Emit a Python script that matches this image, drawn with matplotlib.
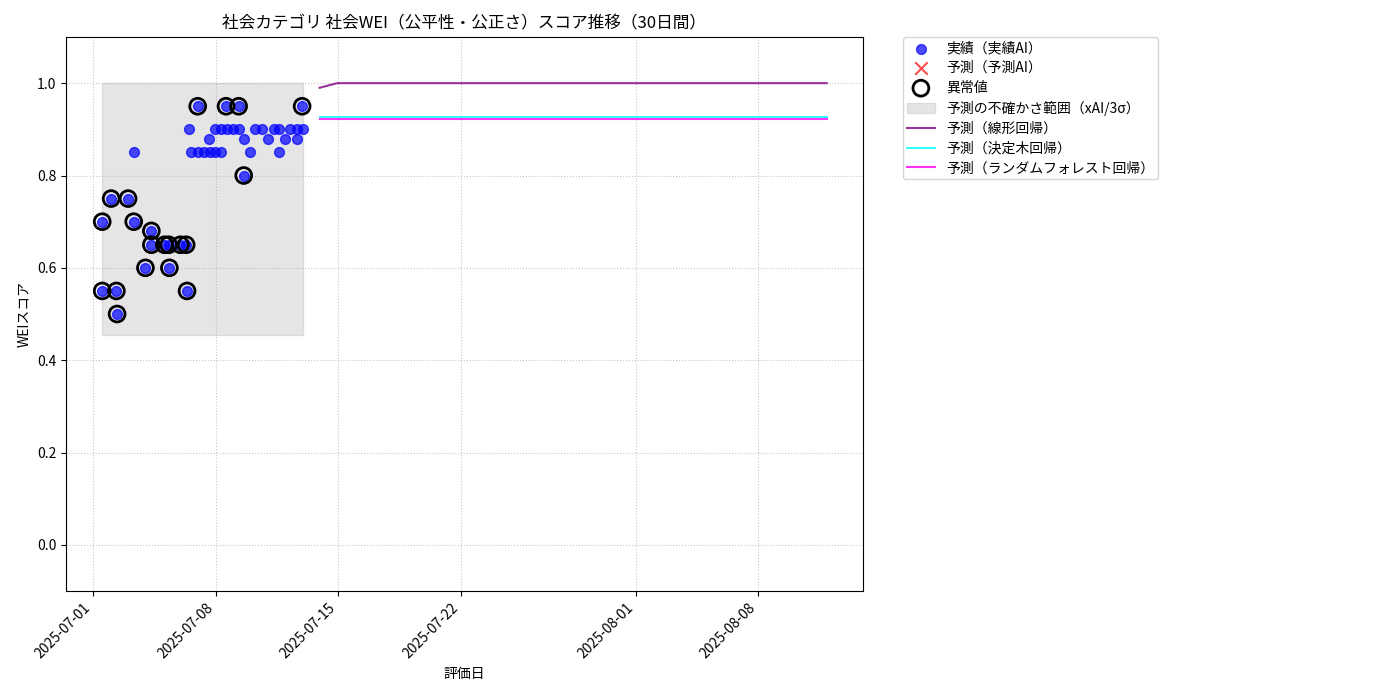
import matplotlib
matplotlib.use("Agg")
import matplotlib.pyplot as plt
import matplotlib.dates as mdates
import pandas as pd

plt.rcParams['font.family'] = ['Noto Sans CJK JP', 'DejaVu Sans']

# ---- data ----
actual_times = [
    "2025-07-01 12:00", "2025-07-01 12:00", "2025-07-02 00:15", "2025-07-02 07:26",
    "2025-07-02 08:24", "2025-07-02 23:30", "2025-07-03 07:12", "2025-07-03 07:12",
    "2025-07-03 23:17", "2025-07-04 07:26", "2025-07-04 07:26", "2025-07-05 01:26",
    "2025-07-05 07:12", "2025-07-05 08:10", "2025-07-05 23:17", "2025-07-06 07:12",
    "2025-07-06 08:24", "2025-07-06 10:48", "2025-07-06 14:24", "2025-07-06 23:02",
    "2025-07-06 23:02", "2025-07-07 08:10", "2025-07-07 14:10", "2025-07-07 16:34",
    "2025-07-07 23:17", "2025-07-07 23:17", "2025-07-08 07:12", "2025-07-08 07:12",
    "2025-07-08 13:55", "2025-07-08 15:22", "2025-07-08 23:31", "2025-07-09 07:12",
    "2025-07-09 07:12", "2025-07-09 14:10", "2025-07-09 14:10", "2025-07-09 22:19",
    "2025-07-10 06:14", "2025-07-10 15:22", "2025-07-10 23:02", "2025-07-11 07:12",
    "2025-07-11 14:10", "2025-07-11 15:07", "2025-07-11 22:19", "2025-07-12 06:14",
    "2025-07-12 15:22", "2025-07-12 15:22", "2025-07-12 22:19", "2025-07-12 23:31",
]
actual_scores = [
    0.70, 0.55, 0.75, 0.55,
    0.50, 0.75, 0.70, 0.85,
    0.60, 0.68, 0.65, 0.65,
    0.65, 0.60, 0.65, 0.65,
    0.55, 0.90, 0.85, 0.95,
    0.85, 0.85, 0.88, 0.85,
    0.90, 0.85, 0.90, 0.85,
    0.95, 0.90, 0.90, 0.95,
    0.90, 0.88, 0.80, 0.85,
    0.90, 0.90, 0.88, 0.90,
    0.85, 0.90, 0.88, 0.90,
    0.90, 0.88, 0.95, 0.90,
]
is_anomaly = [
    1, 1, 1, 1,
    1, 1, 1, 0,
    1, 1, 1, 1,
    1, 1, 1, 1,
    1, 0, 0, 1,
    0, 0, 0, 0,
    0, 0, 0, 0,
    1, 0, 0, 1,
    0, 0, 1, 0,
    0, 0, 0, 0,
    0, 0, 0, 0,
    0, 0, 1, 0,
]

predicted_ai_times = []
predicted_ai_scores = []

band_low = 0.455
band_high = 1.0

forecast_start = "2025-07-13 22:19"
forecast_days = 30
linear_pred = [0.99, 1.0, 1.0, 1.0, 1.0, 1.0, 1.0, 1.0, 1.0, 1.0,
               1.0, 1.0, 1.0, 1.0, 1.0, 1.0, 1.0, 1.0, 1.0, 1.0,
               1.0, 1.0, 1.0, 1.0, 1.0, 1.0, 1.0, 1.0, 1.0, 1.0]
tree_pred = [0.926, 0.926, 0.926, 0.926, 0.926, 0.926, 0.926, 0.926, 0.926, 0.926,
             0.926, 0.926, 0.926, 0.926, 0.926, 0.926, 0.926, 0.926, 0.926, 0.926,
             0.926, 0.926, 0.926, 0.926, 0.926, 0.926, 0.926, 0.926, 0.926, 0.926]
rf_pred = [0.922, 0.922, 0.922, 0.922, 0.922, 0.922, 0.922, 0.922, 0.922, 0.922,
           0.922, 0.922, 0.922, 0.922, 0.922, 0.922, 0.922, 0.922, 0.922, 0.922,
           0.922, 0.922, 0.922, 0.922, 0.922, 0.922, 0.922, 0.922, 0.922, 0.922]

# ---- build ----
t_actual = pd.to_datetime(actual_times)
anom_t = [t for t, a in zip(t_actual, is_anomaly) if a]
anom_v = [v for v, a in zip(actual_scores, is_anomaly) if a]
t_fc = pd.date_range(forecast_start, periods=forecast_days, freq="D")

fig = plt.figure(figsize=(14, 7), dpi=100)
ax = fig.add_axes([66 / 1400, 1 - 591 / 700, (863 - 66) / 1400, (591 - 37) / 700])

ax.scatter(t_actual, actual_scores, color="blue", alpha=0.7, s=50, label="実績（実績AI）", zorder=3)
ax.scatter(pd.to_datetime(predicted_ai_times), predicted_ai_scores, color="red", marker="x",
           alpha=0.7, s=80, label="予測（予測AI）", zorder=3)
ax.scatter(anom_t, anom_v, facecolors="none", edgecolors="black", linewidths=2, s=130,
           label="異常値", zorder=4)
ax.fill_between([t_actual.min(), t_actual.max()], [band_low, band_low], [band_high, band_high],
                color="gray", alpha=0.2, label="予測の不確かさ範囲（xAI/3σ）")
ax.plot(t_fc, linear_pred, color="purple", alpha=0.8, lw=1.5, label="予測（線形回帰）")
ax.plot(t_fc, tree_pred, color="cyan", alpha=0.8, lw=1.5, label="予測（決定木回帰）")
ax.plot(t_fc, rf_pred, color="magenta", alpha=0.8, lw=1.5, label="予測（ランダムフォレスト回帰）")

ax.set_ylim(-0.1, 1.1)
ax.xaxis.set_major_locator(mdates.DayLocator(bymonthday=[1, 8, 15, 22]))
ax.xaxis.set_major_formatter(mdates.DateFormatter("%Y-%m-%d"))
plt.setp(ax.get_xticklabels(), rotation=45, ha="right")
ax.grid(True, linestyle=":", alpha=0.7)
ax.set_title("社会カテゴリ 社会WEI（公平性・公正さ）スコア推移（30日間）", fontsize=12)
ax.set_xlabel("評価日")
ax.set_ylabel("WEIスコア")
ax.legend(loc="upper left", bbox_to_anchor=(1.05, 1), borderaxespad=0,
          labelspacing=0.42, borderpad=0.3)

fig.savefig("out.png", dpi=100)
